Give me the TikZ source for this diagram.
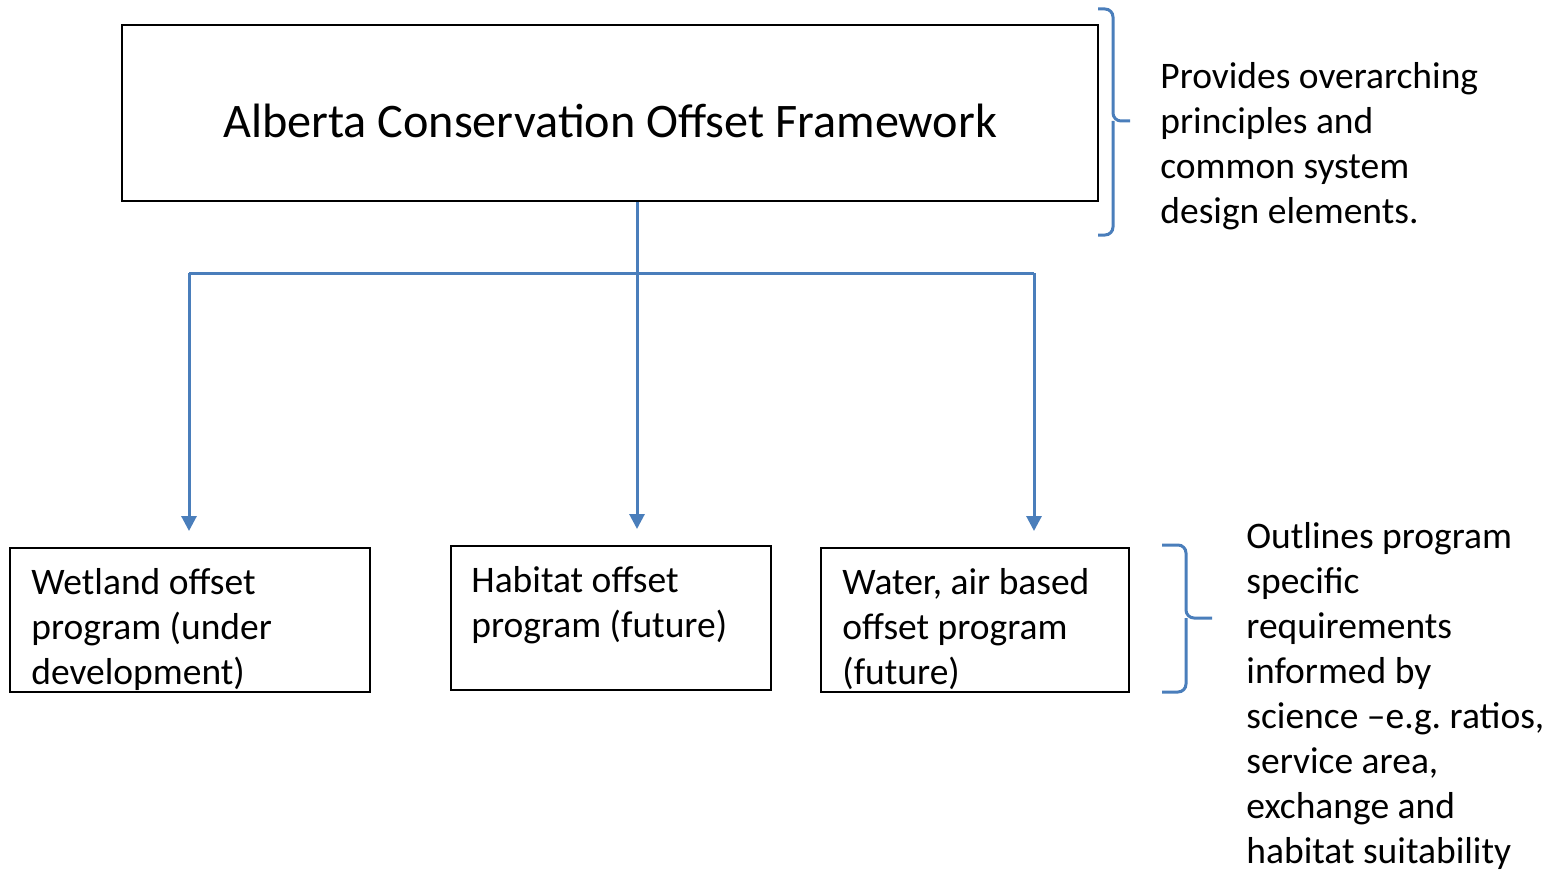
\documentclass[tikz,border=0pt]{standalone}
\usepackage{fontspec}
\setmainfont{Carlito}
\usetikzlibrary{arrows.meta}
\definecolor{linkblue}{HTML}{4A7EBB}
\frenchspacing

\tikzset{
  box/.style = {draw, line width=1pt, inner sep=0pt},
  note/.style = {font=\fontsize{18.75}{22.5}\selectfont, align=left, inner sep=0pt, anchor=base west},
  link/.style = {draw=linkblue, line width=1.5pt},
  brace/.style = {draw=linkblue, line width=1.5pt, rounded corners=4pt}
}

\begin{document}
\begin{tikzpicture}[x=0.5pt, y=-0.5pt]
\useasboundingbox (0,0) rectangle (1552,872);

% framework box
\node [box, minimum width=488pt, minimum height=88pt] (acof) at (610,113) {};
\node [font=\fontsize{24.1}{29}\selectfont, inner sep=0pt, anchor=base] (acoftitle) at (610,138) {Alberta Conservation Offset Framework};

% program boxes
\node [box, minimum width=180pt, minimum height=72pt] (wetland) at (190,620) {};
\node [box, minimum width=160pt, minimum height=72pt] (habitat) at (611,618) {};
\node [box, minimum width=154pt, minimum height=72pt] (water) at (975,620) {};
% base anchor sits on the last line
\node [note] (wetlandtext) at (31,684) {Wetland offset\\program (under\\development)};
\node [note] (habitattext) at (471,637) {Habitat offset\\program (future)};
\node [note] (watertext) at (842,684) {Water, air based\\offset program\\(future)};

% connectors
\coordinate (split) at (637,273);
\coordinate (lsplit) at (189,273);
\coordinate (rsplit) at (1034,273);
\draw [link] (acof.south -| split) -- (split);
\draw [link] (lsplit) -- (rsplit);
\foreach \s/\b in {lsplit/wetland, split/habitat, rsplit/water}
  \draw [link, -{Triangle[width=7.5pt, length=7.5pt]}, shorten >=8pt] (\s) -- (\s |- \b.north);

% braces
\draw [brace] (1098,9) -- (1113,9) -- (1113,121) -- (1130,121);
\draw [brace] (1113,121) -- (1113,235) -- (1098,235);
\draw [brace] (1162,545) -- (1186,545) -- (1186,618) -- (1212,618);
\draw [brace] (1186,618) -- (1186,692) -- (1162,692);

% notes
\node [note] (principles) at (1160,223) {Provides overarching\\principles and\\common system\\design elements.};
\node [note] (requirements) at (1246,863) {Outlines program\\specific\\requirements\\informed by\\science –e.g. ratios,\\service area,\\exchange and\\habitat suitability};

\end{tikzpicture}
\end{document}
